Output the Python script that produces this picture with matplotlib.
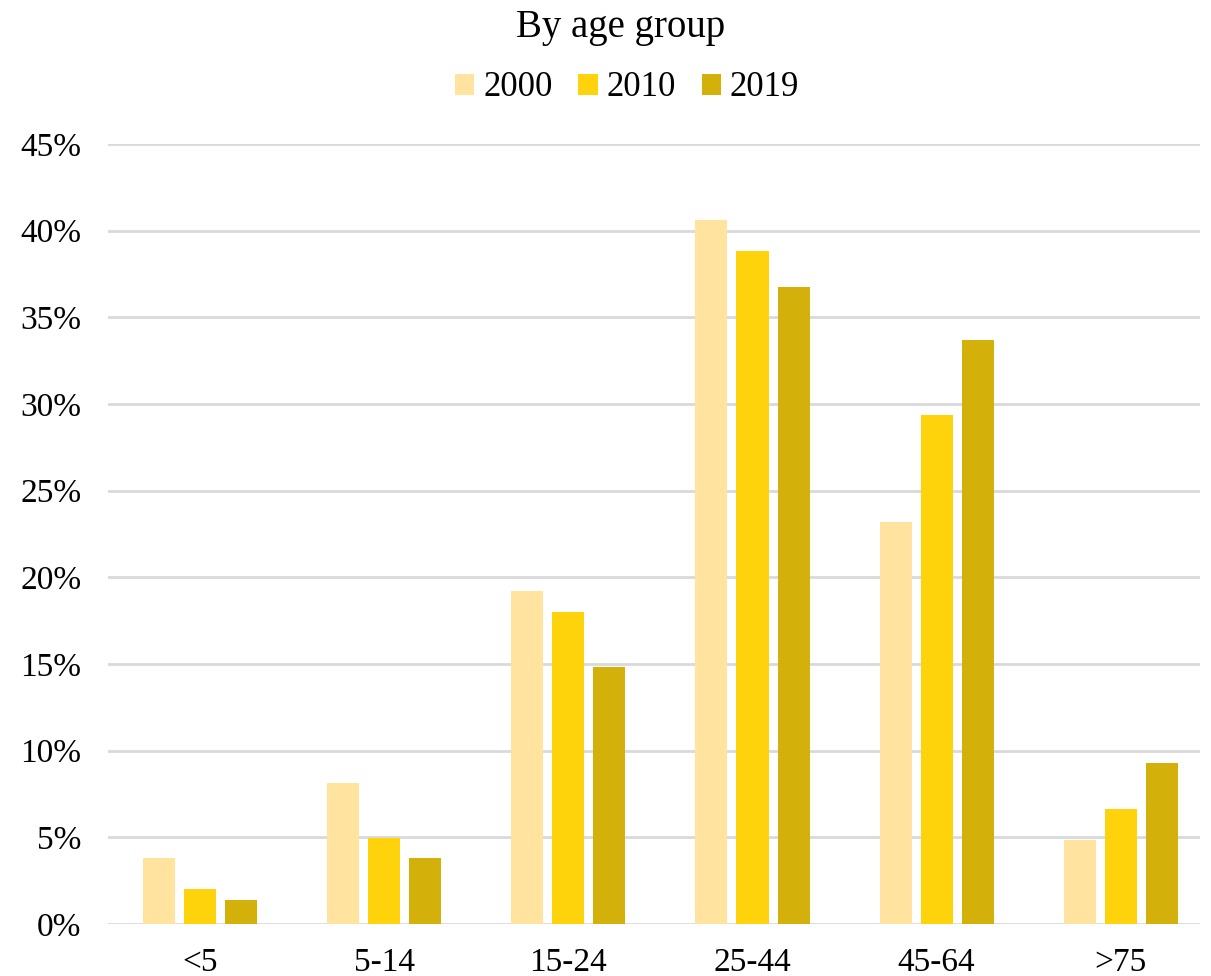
import numpy as np
import matplotlib.pyplot as plt
from matplotlib.ticker import FuncFormatter

categories = ['<5', '5-14', '15-24', '25-44', '45-64', '>75']
years = ['2000', '2010', '2019']
v2000 = [3.8, 8.15, 19.2, 40.6, 23.2, 4.85]
v2010 = [2.0, 4.95, 18.0, 38.8, 29.35, 6.65]
v2019 = [1.4, 3.8, 14.8, 36.75, 33.7, 9.3]
colors = ['#FFE39F', '#FFD30C', '#D4B00A']

plt.rcParams['font.family'] = ['Liberation Serif', 'DejaVu Serif']

fig = plt.figure(figsize=(12.11, 9.76), dpi=100)
ax = fig.add_axes([108 / 1211, 52 / 976, 1092 / 1211, 780 / 976])

x = np.arange(len(categories))
width = 0.174
pitch = 0.223
for i, (vals, c) in enumerate(zip([v2000, v2010, v2019], colors)):
    ax.bar(x + (i - 1) * pitch, vals, width, color=c, label=years[i], zorder=3)

ax.set_xlim(-0.5, 5.43)
ax.set_ylim(0, 45)
ax.set_yticks(np.arange(0, 46, 5))
ax.yaxis.set_major_formatter(FuncFormatter(lambda v, p: f'{v:.0f}%'))
ax.set_xticks(x)
ax.set_xticklabels(categories)
ax.grid(axis='y', color='#d9d9d9', linewidth=2, zorder=0)
ax.tick_params(axis='both', length=0, labelsize=24, colors='black')
ax.tick_params(axis='y', pad=19)
ax.tick_params(axis='x', pad=17)
for s in ax.spines.values():
    s.set_visible(False)

fig.text(621 / 1211, 1 - 27 / 976, 'By age group', ha='center', va='center', fontsize=28)
fig.legend(loc='center', bbox_to_anchor=(627 / 1211, 1 - 88 / 976), ncol=3, frameon=False,
           fontsize=25, handlelength=0.55, handleheight=0.55, handletextpad=0.25,
           columnspacing=0.75)

fig.savefig('out.png', dpi=100, facecolor='white')
